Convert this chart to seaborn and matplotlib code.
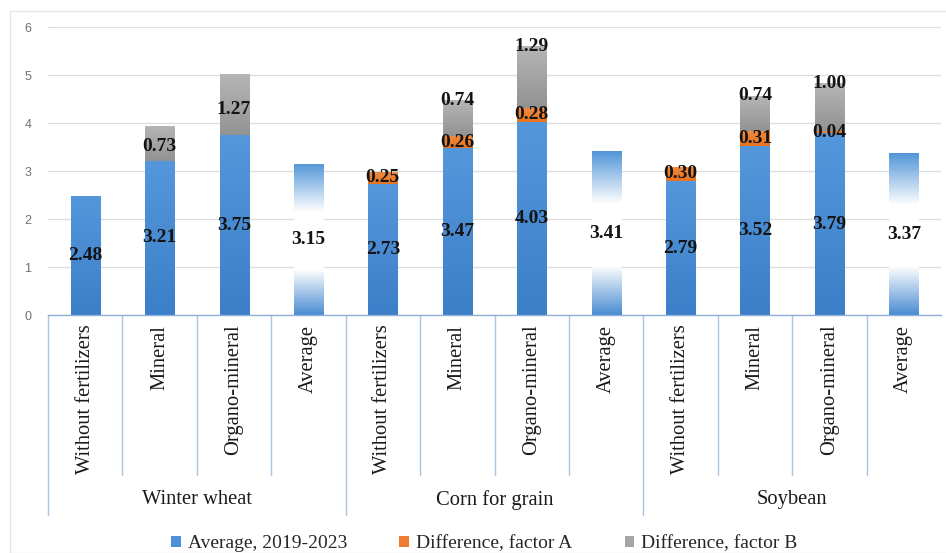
import numpy as np
import pandas as pd
import matplotlib
matplotlib.use("Agg")
import matplotlib.pyplot as plt
import matplotlib.transforms as mtrans
from matplotlib.colors import LinearSegmentedColormap
from matplotlib.patches import Patch, Rectangle
import seaborn as sns

# ---------------- data ----------------
crops = ["Winter wheat", "Corn for grain", "Soybean"]
treatments = ["Without fertilizers", "Mineral", "Organo-mineral", "Average"]
avg_values = [2.48, 3.21, 3.75, 3.15, 2.73, 3.47, 4.03, 3.41, 2.79, 3.52, 3.79, 3.37]
factor_a = [0.00, 0.00, 0.00, 0.00, 0.25, 0.26, 0.28, 0.00, 0.30, 0.31, 0.04, 0.00]
factor_b = [0.00, 0.73, 1.27, 0.00, 0.00, 0.74, 1.29, 0.00, 0.00, 0.74, 1.00, 0.00]
series_names = ["Average, 2019-2023", "Difference, factor A", "Difference, factor B"]
y_ticks = [0, 1, 2, 3, 4, 5, 6]

rows = []
for ci, crop in enumerate(crops):
    for ti, tr in enumerate(treatments):
        k = ci * len(treatments) + ti
        rows.append(dict(id=f"{crop}|{tr}", crop=crop, treatment=tr,
                         avg=avg_values[k], a=factor_a[k], b=factor_b[k]))
df = pd.DataFrame(rows)
ids = list(df["id"])
df["base_b"] = df["avg"] + df["a"]

# ---------------- style ----------------
BLUE = "#4f91d6"
ORANGE = "#ED7D31"
GRAY = "#a5a5a5"
SERIF = "Liberation Serif"
SEP_COLOR = "#a9c4e4"

sns.set_theme(style="white")
plt.rcParams["font.family"] = ["Liberation Serif", "DejaVu Serif"]

fig = plt.figure(figsize=(9.46, 5.53), dpi=100)
W, H = 946, 553
ax = fig.add_axes([48 / W, 1 - 315 / H, (941 - 48) / W, (315 - 27) / H])

bar_w = 0.39

n0 = len(ax.patches)
sns.barplot(data=df, x="id", y="avg", order=ids, color=BLUE, saturation=1,
            width=bar_w, errorbar=None, ax=ax)
blue_patches = ax.patches[n0:]
n1 = len(ax.patches)
sns.barplot(data=df, x="id", y="a", order=ids, color=ORANGE, saturation=1,
            width=bar_w, errorbar=None, bottom=df["avg"].values, ax=ax)
orange_patches = ax.patches[n1:]
n2 = len(ax.patches)
sns.barplot(data=df, x="id", y="b", order=ids, color=GRAY, saturation=1,
            width=bar_w, errorbar=None, bottom=df["base_b"].values, ax=ax)
gray_patches = ax.patches[n2:]

cm_blue = LinearSegmentedColormap.from_list("b", ["#3b7fc8", "#5597db"])
cm_avg = LinearSegmentedColormap.from_list(
    "avg", [(0, "#4a8cd2"), (0.30, "#ffffff"), (0.68, "#ffffff"), (1, "#5296d8")])
cm_orange = LinearSegmentedColormap.from_list("o", ["#e8731f", "#f08a40"])
cm_gray = LinearSegmentedColormap.from_list("g", ["#929292", "#b6b6b6"])


def fill_gradient(patch, cmap):
    h = patch.get_height()
    if h <= 0:
        patch.set_visible(False)
        return
    x0, y0, w = patch.get_x(), patch.get_y(), patch.get_width()
    grad = np.linspace(0, 1, 256).reshape(-1, 1)
    im = ax.imshow(grad, extent=[x0, x0 + w, y0, y0 + h], origin="lower",
                   aspect="auto", cmap=cmap, interpolation="bilinear",
                   zorder=patch.get_zorder() + 0.1)
    im.set_clip_path(patch)
    patch.set_edgecolor("none")


for i, p in enumerate(blue_patches):
    fill_gradient(p, cm_avg if df["treatment"].iloc[i] == "Average" else cm_blue)
for p in orange_patches:
    fill_gradient(p, cm_orange)
for p in gray_patches:
    fill_gradient(p, cm_gray)

# ---------------- labels ----------------
lab_kw = dict(ha="center", va="center", fontsize=14, fontweight="bold",
              color="#141414", family=SERIF, zorder=5)
for i, p in enumerate(blue_patches):
    cx = p.get_x() + p.get_width() / 2
    ax.text(cx, p.get_y() + p.get_height() / 2, f"{avg_values[i]:.2f}", **lab_kw)
for i, p in enumerate(orange_patches):
    if factor_a[i] > 0:
        cx = p.get_x() + p.get_width() / 2
        ax.text(cx, p.get_y() + p.get_height() / 2, f"{factor_a[i]:.2f}", **lab_kw)
for i, p in enumerate(gray_patches):
    if factor_b[i] > 0:
        cx = p.get_x() + p.get_width() / 2
        if factor_a[i] > 0:
            ypos = p.get_y() + p.get_height()
        else:
            ypos = p.get_y() + p.get_height() * 0.42
        ax.text(cx, ypos, f"{factor_b[i]:.2f}", **lab_kw)

# ---------------- axes ----------------
ax.set_xlim(-0.5, len(ids) - 0.5)
ax.set_ylim(0, 6)
ax.set_yticks(y_ticks)
ax.set_yticklabels([str(t) for t in y_ticks], family="Liberation Sans",
                   fontsize=9, color="#707070")
ax.set_xticks(range(len(ids)))
ax.set_xticklabels(list(df["treatment"]), rotation=90, va="top", ha="center",
                   fontsize=14.8, family=SERIF, color="#1a1a1a")
ax.tick_params(axis="x", length=0, pad=7)
ax.tick_params(axis="y", length=0, pad=12)
ax.set_xlabel("")
ax.set_ylabel("")
ax.yaxis.grid(True, color="#dedede", linewidth=0.9)
ax.xaxis.grid(False)
ax.set_axisbelow(True)
for s in ["top", "right", "left"]:
    ax.spines[s].set_visible(False)
ax.spines["bottom"].set_color("#8fb0d8")
ax.spines["bottom"].set_linewidth(1.0)

# category separators
trans = mtrans.blended_transform_factory(ax.transData, ax.transAxes)
n_t = len(treatments)
for k in range(len(ids)):
    xs = k - 0.5
    low = -0.694 if k % n_t == 0 else -0.556
    ax.plot([xs, xs], [0, low], transform=trans, color=SEP_COLOR, lw=1.0,
            clip_on=False, zorder=1)

# group labels
for ci, crop in enumerate(crops):
    xc = ci * n_t + (n_t - 1) / 2
    ax.text(xc, -0.642, crop, transform=trans, ha="center", va="center",
            fontsize=14.8, family=SERIF, color="#1a1a1a")

# legend
handles = [Patch(facecolor=c, edgecolor="none") for c in (BLUE, ORANGE, GRAY)]
fig.legend(handles, series_names, loc="center", bbox_to_anchor=(0.512, 1 - 544 / H),
           ncol=3, frameon=False, handlelength=0.5, handleheight=0.5,
           handletextpad=0.35, columnspacing=2.7, prop={"family": SERIF, "size": 14})

# faint outer chart border
fig.patches.append(Rectangle((10 / W, 0), 1, 1 - 11 / H, transform=fig.transFigure,
                             fill=False, edgecolor="#e6e6e6", lw=1.0, zorder=0))

fig.savefig("out.png", dpi=100)
